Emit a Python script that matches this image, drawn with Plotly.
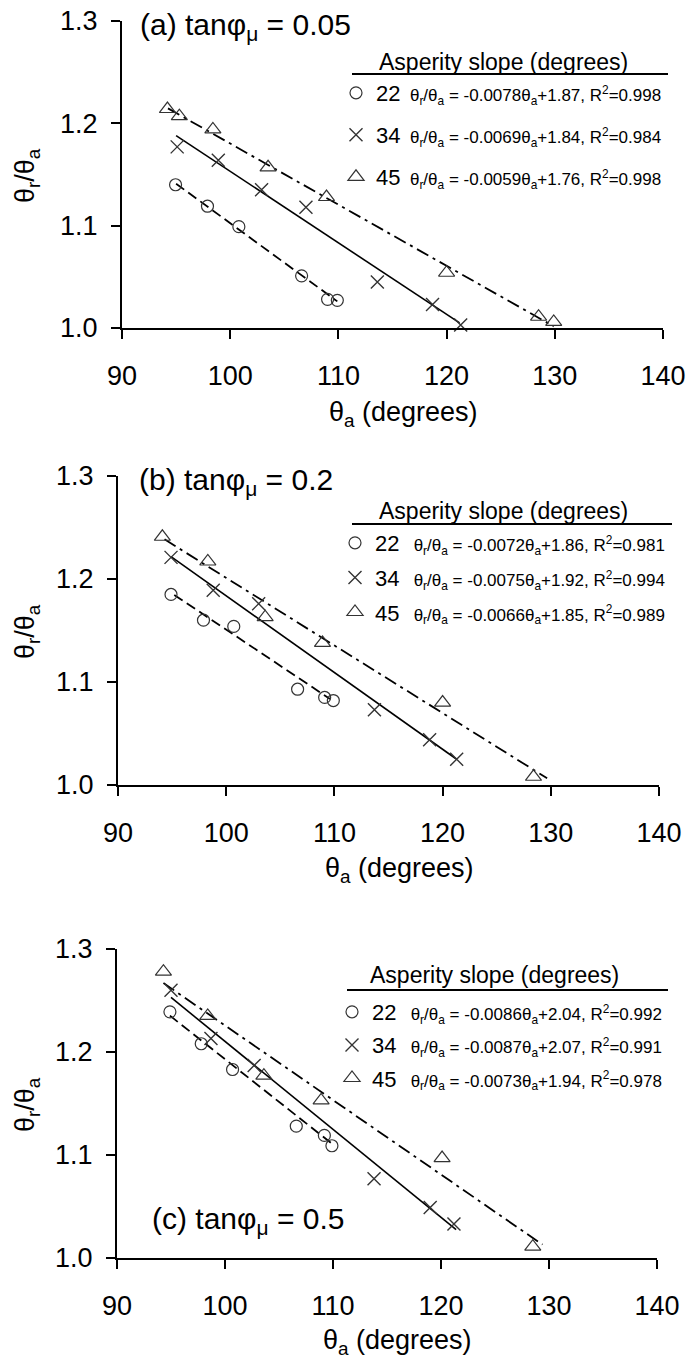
import plotly.graph_objects as go

# ---------------- data ----------------
theta_ticks = [90, 100, 110, 120, 130, 140]
ratio_ticks = [1.0, 1.1, 1.2, 1.3]
slope_names = ["22", "34", "45"]

panel_labels = ["(a) tanφ<sub>μ</sub> = 0.05",
                "(b) tanφ<sub>μ</sub> = 0.2",
                "(c) tanφ<sub>μ</sub> = 0.5"]

# panel (a) tan(phi_mu) = 0.05
a22_x = [94.95, 97.9, 100.8, 106.6, 109.0, 109.9]
a22_y = [1.140, 1.119, 1.099, 1.051, 1.028, 1.027]
a34_x = [95.1, 98.9, 102.9, 107.0, 113.6, 118.7, 121.3]
a34_y = [1.177, 1.164, 1.135, 1.118, 1.045, 1.023, 1.003]
a45_x = [94.2, 95.3, 98.4, 103.5, 108.9, 120.0, 128.5, 129.9]
a45_y = [1.214, 1.207, 1.194, 1.157, 1.128, 1.054, 1.011, 1.006]
a22_fit_x = [95.0, 109.9]
a22_fit_y = [1.141, 1.026]
a34_fit_x = [95.0, 121.2]
a34_fit_y = [1.188, 1.005]
a45_fit_x = [94.25, 129.9]
a45_fit_y = [1.2146, 1.0016]
a_coef = ["-0.0078", "-0.0069", "-0.0059"]
a_icpt = ["1.87", "1.84", "1.76"]
a_r2 = ["0.998", "0.984", "0.998"]

# panel (b) tan(phi_mu) = 0.2
b22_x = [94.9, 97.9, 100.7, 106.6, 109.1, 109.9]
b22_y = [1.185, 1.160, 1.154, 1.093, 1.085, 1.082]
b34_x = [94.9, 98.8, 103.0, 113.7, 118.8, 121.3]
b34_y = [1.221, 1.189, 1.176, 1.073, 1.044, 1.025]
b45_x = [94.1, 98.3, 103.6, 108.9, 120.0, 128.4]
b45_y = [1.241, 1.217, 1.163, 1.138, 1.080, 1.008]
b22_fit_x = [95.2, 109.6]
b22_fit_y = [1.1845, 1.0835]
b34_fit_x = [94.9, 121.3]
b34_fit_y = [1.2217, 1.025]
b45_fit_x = [94.3, 129.66]
b45_fit_y = [1.2385, 1.0065]
b_coef = ["-0.0072", "-0.0075", "-0.0066"]
b_icpt = ["1.86", "1.92", "1.85"]
b_r2 = ["0.981", "0.994", "0.989"]

# panel (c) tan(phi_mu) = 0.5
c22_x = [94.9, 97.8, 100.7, 106.6, 109.2, 109.9]
c22_y = [1.239, 1.208, 1.183, 1.128, 1.119, 1.109]
c34_x = [95.0, 98.7, 102.7, 113.8, 119.0, 121.2]
c34_y = [1.260, 1.213, 1.187, 1.077, 1.049, 1.033]
c45_x = [94.3, 98.4, 103.6, 108.9, 120.1, 128.5]
c45_y = [1.278, 1.235, 1.177, 1.153, 1.097, 1.011]
c22_fit_x = [94.9, 109.9]
c22_fit_y = [1.2353, 1.111]
c34_fit_x = [95.0, 121.4]
c34_fit_y = [1.253, 1.0275]
c45_fit_x = [94.3, 129.4]
c45_fit_y = [1.267, 1.013]
c_coef = ["-0.0086", "-0.0087", "-0.0073"]
c_icpt = ["2.04", "2.07", "1.94"]
c_r2 = ["0.992", "0.991", "0.978"]

# ---------------- figure ----------------
W, H = 688, 1367
FONT = "Liberation Sans, Arial, Helvetica, sans-serif"


def px(x):
    return x / W


def py(y):
    return 1 - y / H


panel_data = [
    dict(pts=[(a22_x, a22_y), (a34_x, a34_y), (a45_x, a45_y)],
         fits=[(a22_fit_x, a22_fit_y), (a34_fit_x, a34_fit_y), (a45_fit_x, a45_fit_y)],
         coef=a_coef, icpt=a_icpt, r2=a_r2),
    dict(pts=[(b22_x, b22_y), (b34_x, b34_y), (b45_x, b45_y)],
         fits=[(b22_fit_x, b22_fit_y), (b34_fit_x, b34_fit_y), (b45_fit_x, b45_fit_y)],
         coef=b_coef, icpt=b_icpt, r2=b_r2),
    dict(pts=[(c22_x, c22_y), (c34_x, c34_y), (c45_x, c45_y)],
         fits=[(c22_fit_x, c22_fit_y), (c34_fit_x, c34_fit_y), (c45_fit_x, c45_fit_y)],
         coef=c_coef, icpt=c_icpt, r2=c_r2),
]

# layout geometry (pixels)
geom = [
    dict(x0=122, x1=663, top=21, bot=328, lab=(138, 27), xt=(403, 414), yt=(27, 176),
         head=(503, 62), uline=(352, 668, 74), leg=(336, 72), gap=10.4, eqsp=2),
    dict(x0=118, x1=659, top=476, bot=785, lab=(137, 481), xt=(399, 870), yt=(27, 632),
         head=(503, 511), uline=(352, 672, 524), leg=(335, 522), gap=3.0, eqsp=3),
    dict(x0=117, x1=657, top=949, bot=1258, lab=(150, 1220), xt=(397, 1342), yt=(27, 1105),
         head=(495, 975), uline=(347, 668, 990), leg=(332, 991), gap=1.5, eqsp=3),
]

markers = [
    dict(symbol="circle-open", size=12, color="#333333", line=dict(width=1.2, color="#333333")),
    dict(symbol="x-thin-open", size=13, color="#333333", line=dict(width=1.4, color="#333333")),
    dict(symbol="triangle-up-open", size=14, color="#333333", line=dict(width=1.2, color="#333333")),
]
lines = [
    dict(color="black", width=1.8, dash="10px,5px"),
    dict(color="black", width=1.6, dash="solid"),
    dict(color="black", width=1.8, dash="13px,5px,3px,5px"),
]

fig = go.Figure()
layout = dict(
    width=W, height=H,
    margin=dict(l=0, r=0, t=0, b=0, autoexpand=False),
    paper_bgcolor="white", plot_bgcolor="white",
    font=dict(family=FONT, color="black"),
    shapes=[], annotations=[],
)

for i, (pd_, g) in enumerate(zip(panel_data, geom)):
    n = "" if i == 0 else str(i + 1)
    xa, ya = "x" + n, "y" + n
    leg = "legend" + n
    for j in range(3):
        fx, fy = pd_["fits"][j]
        fig.add_trace(go.Scatter(x=fx, y=fy, mode="lines", line=lines[j],
                                 xaxis=xa, yaxis=ya, showlegend=False, hoverinfo="skip"))
    for j in range(3):
        xs, ys = pd_["pts"][j]
        sp = "\u00a0" * g["eqsp"]
        label = (f"{slope_names[j]}<span style='font-size:17px'>{sp}θ<sub>r</sub>/θ<sub>a</sub> = "
                 f"{pd_['coef'][j]}θ<sub>a</sub>+{pd_['icpt'][j]}, R<sup>2</sup>={pd_['r2'][j]}</span>")
        fig.add_trace(go.Scatter(x=xs, y=ys, mode="markers", marker=markers[j], name=label,
                                 legend=leg, legendgroup=f"g{i}{j}", cliponaxis=False,
                                 xaxis=xa, yaxis=ya))

    layout["xaxis" + n] = dict(
        domain=[px(g["x0"]), px(g["x1"])], range=[90, 140], tickvals=theta_ticks,
        anchor=ya, showline=True, linewidth=2, linecolor="black", ticks="outside",
        ticklen=9, tickwidth=2, tickcolor="black", showgrid=False, zeroline=False,
        tickfont=dict(size=27, family=FONT, color="black"), ticklabelstandoff=14,
    )
    layout["yaxis" + n] = dict(
        domain=[py(g["bot"]), py(g["top"])], range=[1.0, 1.3], tickvals=ratio_ticks,
        tickformat=".1f", anchor=xa, showline=True, linewidth=2, linecolor="black",
        ticks="outside", ticklen=9, tickwidth=2, tickcolor="black", showgrid=False,
        zeroline=False, tickfont=dict(size=27, family=FONT, color="black"), ticklabelstandoff=8,
    )
    layout[leg] = dict(
        x=px(g["leg"][0]), y=py(g["leg"][1]), xanchor="left", yanchor="top",
        xref="paper", yref="paper", bgcolor="rgba(0,0,0,0)", borderwidth=0,
        font=dict(size=22, family=FONT, color="black"), traceorder="grouped",
        tracegroupgap=g["gap"], itemwidth=30, itemclick=False, itemdoubleclick=False,
    )
    ux0, ux1, uy = g["uline"]
    layout["shapes"].append(dict(type="line", xref="paper", yref="paper",
                                 x0=px(ux0), x1=px(ux1), y0=py(uy), y1=py(uy),
                                 line=dict(color="black", width=2)))
    layout["annotations"] += [
        dict(text=panel_labels[i], x=px(g["lab"][0]), y=py(g["lab"][1]), xref="paper",
             yref="paper", xanchor="left", yanchor="middle", showarrow=False,
             font=dict(size=30, family=FONT, color="black")),
        dict(text="θ<sub>a</sub> (degrees)", x=px(g["xt"][0]), y=py(g["xt"][1]), xref="paper",
             yref="paper", xanchor="center", yanchor="middle", showarrow=False,
             font=dict(size=27, family=FONT, color="black")),
        dict(text="θ<sub>r</sub>/θ<sub>a</sub>", x=px(g["yt"][0]), y=py(g["yt"][1]), xref="paper",
             yref="paper", xanchor="center", yanchor="middle", showarrow=False, textangle=-90,
             font=dict(size=27, family=FONT, color="black")),
        dict(text="Asperity slope (degrees)", x=px(g["head"][0]), y=py(g["head"][1]),
             xref="paper", yref="paper", xanchor="center", yanchor="middle", showarrow=False,
             font=dict(size=23, family=FONT, color="black")),
    ]

fig.update_layout(**layout)
fig.write_html(
    "out.html",
    config={"displayModeBar": False},
    post_script="document.body.style.margin='0';document.body.style.overflow='hidden';",
)
